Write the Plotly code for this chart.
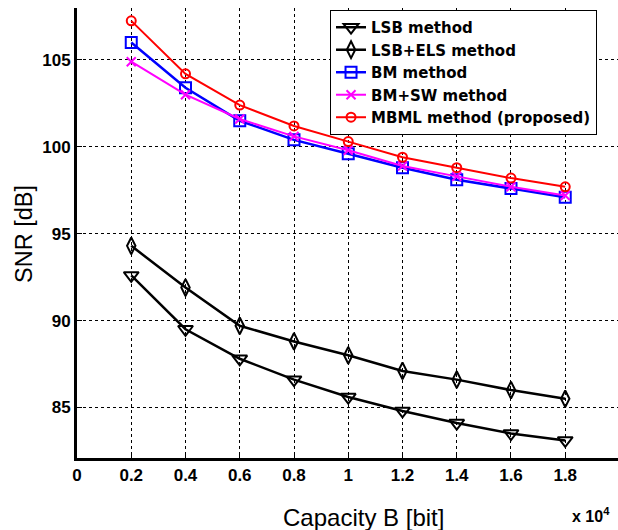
import plotly.graph_objects as go

capacity_bits = [2000, 4000, 6000, 8000, 10000, 12000, 14000, 16000, 18000]
lsb = [92.6, 89.5, 87.8, 86.6, 85.6, 84.8, 84.1, 83.5, 83.1]
lsb_els = [94.3, 91.9, 89.7, 88.8, 88.0, 87.1, 86.6, 86.0, 85.5]
bm = [106.0, 103.4, 101.5, 100.4, 99.6, 98.8, 98.1, 97.6, 97.1]
bm_sw = [104.9, 103.0, 101.6, 100.6, 99.8, 98.9, 98.3, 97.7, 97.2]
mbml = [107.25, 104.2, 102.4, 101.2, 100.3, 99.4, 98.8, 98.2, 97.7]

series_names = ["LSB method", "LSB+ELS method", "BM method", "BM+SW method", "MBML method (proposed)"]
x_tickvals = [0, 2000, 4000, 6000, 8000, 10000, 12000, 14000, 16000, 18000]
x_ticktext = ["0", "0.2", "0.4", "0.6", "0.8", "1", "1.2", "1.4", "1.6", "1.8"]
y_tickvals = [85, 90, 95, 100, 105]

FONT = "Liberation Sans, Arial, sans-serif"
LEGFONT = "DejaVu Sans, sans-serif"

fig = go.Figure()
styles = [
    (lsb, "#000000", "triangle-down-open", 13, 2.5),
    (lsb_els, "#000000", "diamond-tall-open", 12, 2.5),
    (bm, "#0000FF", "square-open", 11, 2.5),
    (bm_sw, "#FF00FF", "x-thin-open", 9, 2),
    (mbml, "#FF0000", "circle-open", 9, 2),
]
for name, (vals, col, sym, size, lw) in zip(series_names, styles):
    fig.add_trace(go.Scatter(
        x=capacity_bits, y=vals, name=name, mode="lines+markers",
        line=dict(color=col, width=lw),
        marker=dict(symbol=sym, size=size, color=col, line=dict(color=col, width=2)),
    ))

fig.update_layout(
    width=618, height=530,
    margin=dict(l=77, r=0, t=8, b=72),
    plot_bgcolor="white", paper_bgcolor="white",
    font=dict(family=FONT, color="black"),
    showlegend=True,
    legend=dict(
        x=0.4677, y=0.9956, xanchor="left", yanchor="top",
        bgcolor="white", bordercolor="black", borderwidth=1,
        font=dict(family=LEGFONT, size=15, color="black", weight="bold"),
        tracegroupgap=0, itemwidth=30,
    ),
    xaxis=dict(
        range=[0, 19945], tickvals=x_tickvals, ticktext=x_ticktext,
        showgrid=True, gridcolor="black", griddash="dot", gridwidth=1,
        zeroline=False, showline=True, linecolor="black", linewidth=3,
        ticks="inside", ticklen=5, tickcolor="black", tickwidth=1,
        tickfont=dict(family=FONT, size=17, weight="bold"),
    ),
    yaxis=dict(
        range=[82.09, 107.99], tickvals=y_tickvals,
        showgrid=True, gridcolor="black", griddash="dot", gridwidth=1,
        zeroline=False, showline=True, linecolor="black", linewidth=3,
        ticks="inside", ticklen=5, tickcolor="black", tickwidth=1,
        tickfont=dict(family=FONT, size=17, weight="bold"),
    ),
    annotations=[
        dict(text="Capacity B [bit]", xref="paper", yref="paper", x=0.5287, y=-0.1333,
             xanchor="center", yanchor="middle", showarrow=False,
             font=dict(family=FONT, size=24)),
        dict(text="SNR [dB]", xref="paper", yref="paper", x=-0.098, y=0.498,
             xanchor="center", yanchor="middle", showarrow=False, textangle=-90,
             font=dict(family=FONT, size=23.5)),
        dict(text="x 10<sup>4</sup>", xref="paper", yref="paper", x=0.989, y=-0.1267,
             xanchor="right", yanchor="middle", showarrow=False,
             font=dict(family=FONT, size=16, weight="bold")),
    ],
)

fig.write_html("out.html")
